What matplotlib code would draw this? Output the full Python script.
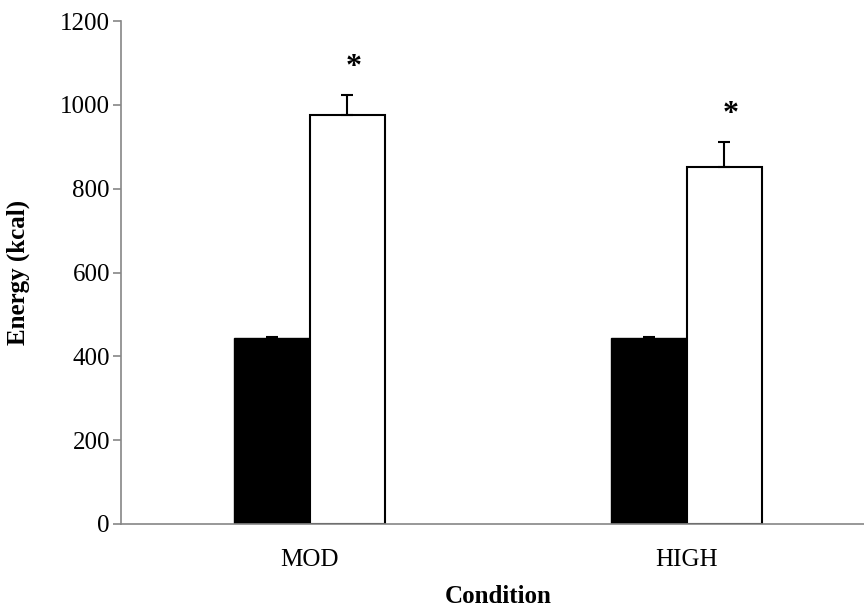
import numpy as np
import matplotlib
matplotlib.use("Agg")
import matplotlib.pyplot as plt

# data
conditions = ["MOD", "HIGH"]
black_vals = [444, 444]
black_err = [3, 3]
white_vals = [976, 852]
white_err = [47, 60]
star_marks = ["*", "*"]
y_ticks = [0, 200, 400, 600, 800, 1000, 1200]

plt.rcParams["font.family"] = ["Liberation Serif", "DejaVu Serif"]

fig = plt.figure(figsize=(8.64, 6.10), dpi=100)
# axis runs a bit past the right edge, like the cropped original
ax = fig.add_axes([121 / 864, 86 / 610, 754 / 864, 503 / 610])

x = np.arange(len(conditions))
width = 0.2

ax.bar(x - width / 2, black_vals, width, color="black", edgecolor="black",
       linewidth=1.0, zorder=2)
ax.bar(x + width / 2, white_vals, width, color="white", edgecolor="black",
       linewidth=1.5, zorder=2)

ax.errorbar(x - width / 2, black_vals, yerr=[[0, 0], black_err], fmt="none",
            ecolor="black", elinewidth=1.5, capsize=4.3, capthick=1.5, zorder=3)
ax.errorbar(x + width / 2, white_vals, yerr=[[0, 0], white_err], fmt="none",
            ecolor="black", elinewidth=1.5, capsize=4.3, capthick=1.5, zorder=3)

# significance stars above the white bars
for xi, v, e, s in zip(x + width / 2, white_vals, white_err, star_marks):
    ax.annotate(s, (xi, v + e), xytext=(6, 20), textcoords="offset pixels",
                ha="center", va="baseline", fontsize=23, fontweight="bold")

ax.set_xlim(-0.5, 1.5)
ax.set_ylim(0, 1200)
ax.set_yticks(y_ticks)
ax.set_xticks(x)
ax.set_xticklabels(conditions)

ax.tick_params(axis="y", direction="out", length=6, width=1.2,
               color="#868686", labelsize=18, pad=2)
ax.tick_params(axis="x", length=0, labelsize=18, pad=18)

for side in ["top", "right"]:
    ax.spines[side].set_visible(False)
for side in ["left", "bottom"]:
    ax.spines[side].set_color("#868686")
    ax.spines[side].set_linewidth(1.2)
    ax.spines[side].set_zorder(4)

ax.set_xlabel("Condition", fontsize=18, fontweight="bold", labelpad=10)
ax.set_ylabel("Energy (kcal)", fontsize=18, fontweight="bold", va="center")
ax.yaxis.set_label_coords((18 - 121) / 754, 0.5)

fig.savefig("out.png", dpi=100)
